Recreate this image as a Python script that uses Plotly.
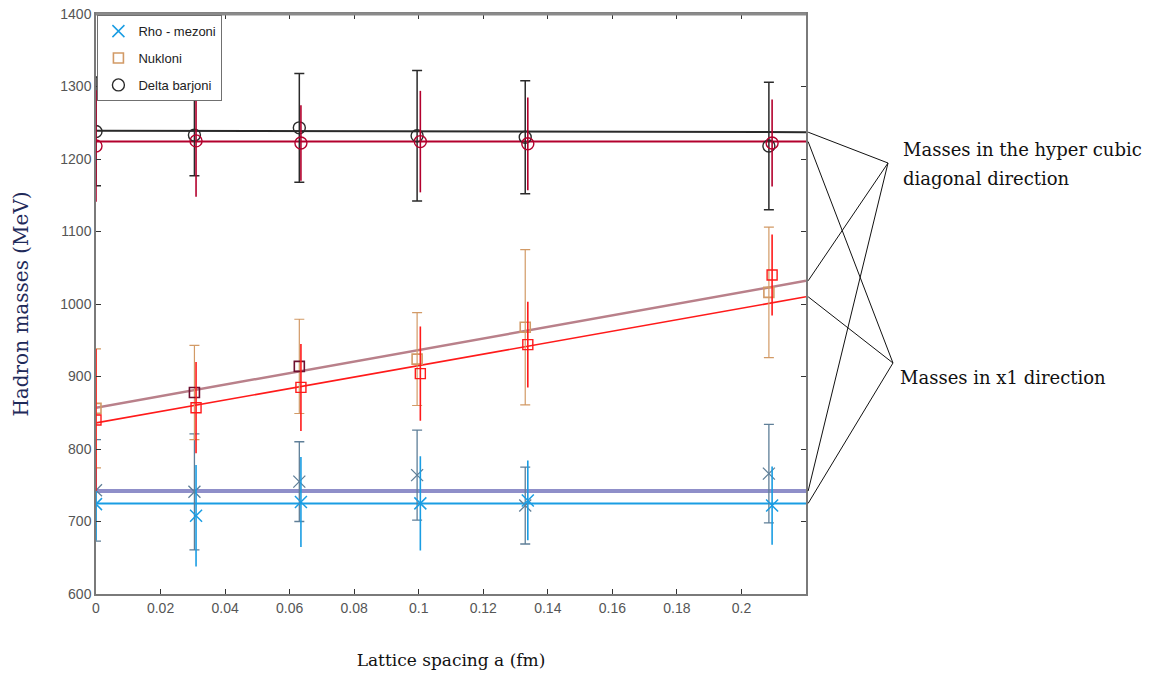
import plotly.graph_objects as go

# ---- data ----
a_diag = [0.0, 0.0305, 0.063, 0.0995, 0.133, 0.2085]
a_x1 = [0.0, 0.031, 0.0635, 0.1005, 0.1338, 0.2095]

delta_diag = [1238, 1233, 1243, 1232, 1230, 1218]
delta_diag_err = [75, 56, 75, 90, 78, 88]
delta_x1 = [1218, 1225, 1222, 1224, 1221, 1222]
delta_x1_err = [77, 77, 52, 70, 64, 60]

nuc_diag = [856, 878, 914, 924, 968, 1016]
nuc_diag_err = [82, 65, 65, 64, 107, 90]
nuc_x1 = [840, 857, 885, 904, 944, 1040]
nuc_x1_err = [98, 63, 60, 65, 59, 56]

rho_diag = [743, 741, 755, 764, 722, 766]
rho_diag_err = [70, 80, 55, 62, 53, 68]
rho_x1 = [724, 708, 727, 725, 729, 722]
rho_x1_err = [50, 70, 62, 65, 55, 54]

fit_x = [0.0, 0.22]
fit_delta_diag = [1239, 1237]
fit_delta_x1 = [1224, 1224]
fit_nuc_diag = [857, 1032]
fit_nuc_x1 = [836, 1010]
fit_rho_diag = [742, 742]
fit_rho_x1 = [725, 725]

x_ticks = [0, 0.02, 0.04, 0.06, 0.08, 0.1, 0.12, 0.14, 0.16, 0.18, 0.2]
x_ticktext = ["0", "0.02", "0.04", "0.06", "0.08", "0.1", "0.12", "0.14", "0.16", "0.18", "0.2"]
y_ticks = [600, 700, 800, 900, 1000, 1100, 1200, 1300, 1400]

Y0, Y1 = 600, 1400
X0, X1 = 0.0, 0.22

C_DELTA_D = "#2a2a2a"
C_DELTA_X = "#b3002d"
C_NUC_D = "#d29a66"
C_NUC_D_LINE = "#b9808a"
C_NUC_X = "#ff1a1a"
C_RHO_D = "#5f7f98"
C_RHO_D_LINE = "#8f8fc9"
C_RHO_X = "#1a9de3"

fig = go.Figure()

# fit lines
for fy, col, w in [
    (fit_rho_diag, C_RHO_D_LINE, 4),
    (fit_rho_x1, C_RHO_X, 2),
    (fit_nuc_diag, C_NUC_D_LINE, 2.5),
    (fit_nuc_x1, C_NUC_X, 1.6),
    (fit_delta_diag, C_DELTA_D, 2),
    (fit_delta_x1, C_DELTA_X, 2),
]:
    fig.add_trace(go.Scatter(x=fit_x, y=fy, mode="lines", line=dict(color=col, width=w),
                             showlegend=False, hoverinfo="skip"))

# Rho
fig.add_trace(go.Scatter(
    x=a_diag, y=rho_diag, mode="markers", showlegend=False,
    marker=dict(symbol="x-thin-open", size=12, color=C_RHO_D, line=dict(color=C_RHO_D, width=1.3)),
    error_y=dict(type="data", array=rho_diag_err, visible=True, color=C_RHO_D, thickness=1.3, width=5)))
fig.add_trace(go.Scatter(
    x=a_x1, y=rho_x1, mode="markers", name="Rho - mezoni", legendgroup="rho",
    marker=dict(symbol="x-thin-open", size=12, color=C_RHO_X, line=dict(color=C_RHO_X, width=1.5)),
    error_y=dict(type="data", array=rho_x1_err, visible=True, color=C_RHO_X, thickness=1.6, width=0)))

# Nucleons
nuc_marker_colors = [C_NUC_D, "#6e1030", "#6e1030", C_NUC_D, C_NUC_D, C_NUC_D]
fig.add_trace(go.Scatter(
    x=a_diag, y=nuc_diag, mode="markers", name="Nukloni", legendgroup="nuc",
    marker=dict(symbol="square-open", size=10, color=nuc_marker_colors, line=dict(width=1.6)),
    error_y=dict(type="data", array=nuc_diag_err, visible=True, color=C_NUC_D, thickness=1.2, width=5)))
fig.add_trace(go.Scatter(
    x=a_x1, y=nuc_x1, mode="markers", showlegend=False,
    marker=dict(symbol="square-open", size=10, color=C_NUC_X, line=dict(width=1.4)),
    error_y=dict(type="data", array=nuc_x1_err, visible=True, color=C_NUC_X, thickness=1.6, width=0)))

# Delta
fig.add_trace(go.Scatter(
    x=a_diag, y=delta_diag, mode="markers", name="Delta barjoni", legendgroup="delta",
    marker=dict(symbol="circle-open", size=12, color=C_DELTA_D, line=dict(width=1.4)),
    error_y=dict(type="data", array=delta_diag_err, visible=True, color=C_DELTA_D, thickness=1.5, width=5)))
fig.add_trace(go.Scatter(
    x=a_x1, y=delta_x1, mode="markers", showlegend=False,
    marker=dict(symbol="circle-open", size=12, color=C_DELTA_X, line=dict(width=1.4)),
    error_y=dict(type="data", array=delta_x1_err, visible=True, color=C_DELTA_X, thickness=1.6, width=0)))


def yp(v):
    return (v - Y0) / (Y1 - Y0)


# connector lines to the labels (paper coordinates)
diag_pt = (1.1155, 0.7431)
x1_pt = (1.1225, 0.3983)
shapes = []
for fy in [fit_delta_diag, fit_nuc_diag, fit_rho_diag]:
    shapes.append(dict(type="line", xref="paper", yref="paper", x0=1.003, y0=yp(fy[-1]),
                       x1=diag_pt[0], y1=diag_pt[1], line=dict(color="#111111", width=1)))
for fy in [fit_delta_x1, fit_nuc_x1, fit_rho_x1]:
    shapes.append(dict(type="line", xref="paper", yref="paper", x0=1.003, y0=yp(fy[-1]),
                       x1=x1_pt[0], y1=x1_pt[1], line=dict(color="#111111", width=1)))
# heavier grey top frame as in the reference
shapes.append(dict(type="line", xref="paper", yref="paper", x0=0, x1=1, y0=1, y1=1,
                   line=dict(color="#8a8a8a", width=3)))

serif = "DejaVu Serif, Liberation Serif, serif"
annotations = [
    dict(xref="paper", yref="paper", x=1.134, y=0.766, xanchor="left", yanchor="middle",
         text="Masses in the hyper cubic", showarrow=False, font=dict(family=serif, size=18, color="#111111")),
    dict(xref="paper", yref="paper", x=1.134, y=0.717, xanchor="left", yanchor="middle",
         text="diagonal direction", showarrow=False, font=dict(family=serif, size=18, color="#111111")),
    dict(xref="paper", yref="paper", x=1.130, y=0.374, xanchor="left", yanchor="middle",
         text="Masses in x1 direction", showarrow=False, font=dict(family=serif, size=18, color="#111111")),
]

tickfont = dict(family="Liberation Sans Narrow, Arial Narrow, Liberation Sans, Arial", size=14, color="#555555")

fig.update_layout(
    width=1150, height=678,
    margin=dict(l=96, r=344, t=14, b=84),
    paper_bgcolor="white", plot_bgcolor="white",
    shapes=shapes, annotations=annotations,
    showlegend=True,
    legend=dict(x=0.002, y=0.998, xanchor="left", yanchor="top", bgcolor="white",
                bordercolor="#707070", borderwidth=1, tracegroupgap=7,
                font=dict(family="Liberation Sans Narrow, Arial Narrow, Liberation Sans, Arial", size=13, color="#222222")),
    xaxis=dict(range=[X0, X1], tickvals=x_ticks, ticktext=x_ticktext, ticks="inside", ticklen=5,
               tickcolor="#333333", showline=True, linecolor="#7a7a7a", linewidth=1.5, mirror="ticks",
               showgrid=False, zeroline=False, tickfont=tickfont, automargin=False,
               title=dict(text="Lattice spacing a (fm)", standoff=40,
                          font=dict(family=serif, size=17, color="#111111"))),
    yaxis=dict(range=[Y0, Y1], tickvals=y_ticks, ticks="inside", ticklen=5,
               tickcolor="#333333", showline=True, linecolor="#7a7a7a", linewidth=1.5, mirror="ticks",
               showgrid=False, zeroline=False, tickfont=tickfont, automargin=False,
               title=dict(text="Hadron masses (MeV)", standoff=26,
                          font=dict(family=serif, size=20, color="#1f2a5a"))),
)

fig.write_html("out.html")
